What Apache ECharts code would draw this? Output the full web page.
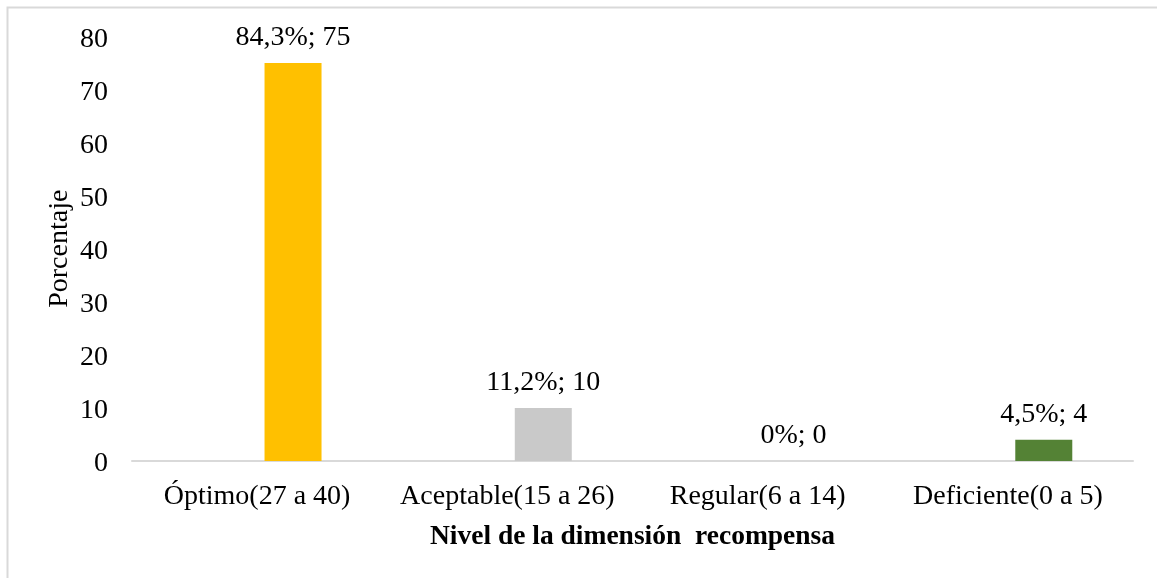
<!DOCTYPE html>
<html>
<head>
<meta charset="utf-8">
<script src="https://cdn.jsdelivr.net/npm/echarts@6/dist/echarts.min.js"></script>
<style>
html,body{margin:0;padding:0;background:#fff;}
#chart{width:1157px;height:578px;}
</style>
</head>
<body>
<div id="chart"></div>
<script>
const categories = ["Óptimo(27 a 40)", "Aceptable(15 a 26)", "Regular(6 a 14)", "Deficiente(0 a 5)"];
const values = [75, 10, 0, 4];
const percents = ["84,3%", "11,2%", "0%", "4,5%"];
const barColors = ["#FFC000", "#C9C9C9", "#A5A5A5", "#548235"];
const yTicks = { min: 0, max: 80, interval: 10 };
const xTitle = "Nivel de la dimensión  recompensa";
const yTitle = "Porcentaje";

const FONT = "'Liberation Serif','Times New Roman',serif";
const FS = 28;

const chart = echarts.init(document.getElementById('chart'), null, { renderer: 'canvas' });
chart.setOption({
  animation: false,
  backgroundColor: '#ffffff',
  textStyle: { fontFamily: FONT },
  graphic: [{
    type: 'rect',
    shape: { x: 7.5, y: 7.5, width: 1300, height: 700 },
    style: { fill: 'none', stroke: '#D9D9D9', lineWidth: 2 },
    silent: true
  }],
  grid: { left: 132, right: 24, top: 36.4, bottom: 117, containLabel: false },
  xAxis: {
    type: 'category',
    data: categories,
    axisLine: { show: true, lineStyle: { color: '#D9D9D9', width: 2 } },
    axisTick: { show: false },
    axisLabel: { color: '#000', fontSize: FS, fontFamily: FONT, margin: 22, interval: 0 },
    name: xTitle,
    nameLocation: 'middle',
    nameGap: 62,
    nameTextStyle: { color: '#000', fontSize: 27.5, fontWeight: 'bold', fontFamily: FONT }
  },
  yAxis: {
    type: 'value',
    min: yTicks.min, max: yTicks.max, interval: yTicks.interval,
    axisLine: { show: false },
    axisTick: { show: false },
    splitLine: { show: false },
    axisLabel: {
      color: '#000', fontSize: FS, fontFamily: FONT, margin: 24,
      formatter: '{a|{value}}',
      rich: { a: { color: '#000', fontSize: FS, fontFamily: FONT, padding: [6, 0, 0, 0] } }
    },
    name: yTitle,
    nameLocation: 'middle',
    nameGap: 58,
    nameMoveOverlap: false,
    nameRotate: 90,
    nameTextStyle: { color: '#000', fontSize: FS, fontFamily: FONT }
  },
  series: [
    {
      type: 'bar',
      name: 'spacer',
      data: categories.map(() => null),
      barWidth: 57,
      barGap: '26%',
      silent: true
    },
    {
      type: 'bar',
      name: 'Porcentaje',
      barWidth: 57,
      barGap: '26%',
      data: values.map((v, i) => ({ value: v, itemStyle: { color: barColors[i] } })),
      label: {
        show: true,
        position: 'top',
        distance: 11,
        color: '#000',
        fontSize: FS,
        fontFamily: FONT,
        formatter: p => percents[p.dataIndex] + '; ' + values[p.dataIndex]
      }
    }
  ]
});
</script>
</body>
</html>
